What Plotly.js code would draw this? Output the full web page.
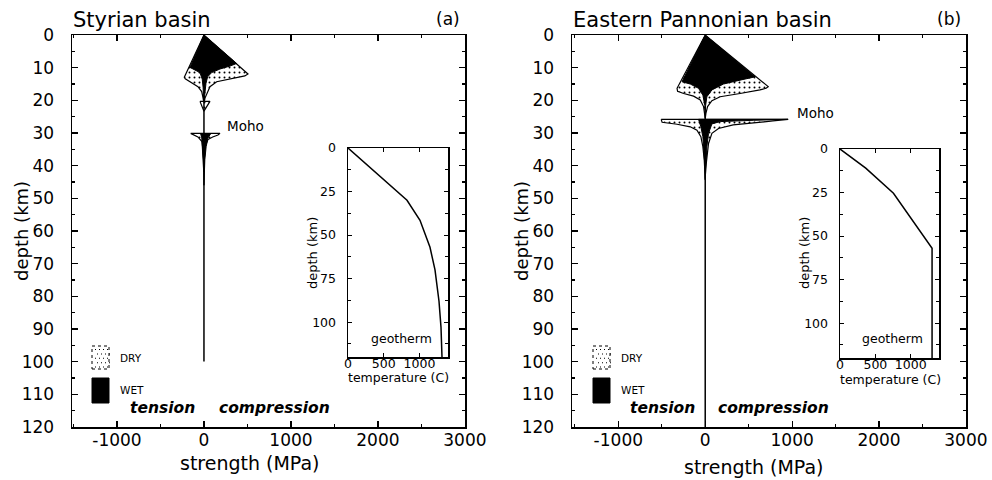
<!DOCTYPE html>
<html><head><meta charset="utf-8">
<script src="https://cdn.plot.ly/plotly-3.0.1.min.js"></script>
<style>body{margin:0;background:#fff}#chart{width:992px;height:480px}</style>
</head><body><div id="chart"></div><script>
// ---------- texts / ticks ----------
const panelTitles = ['Styrian basin', 'Eastern Pannonian basin'];
const panelLabels = ['(a)', '(b)'];
const depthTicks = [0, 10, 20, 30, 40, 50, 60, 70, 80, 90, 100, 110, 120];
const strengthTicks = [-1000, 0, 1000, 2000, 3000];
const strengthTickText = ['-1000', '0', '1000', '2000', '3000'];
const geoDepthTicks = [0, 25, 50, 75, 100];
const geoTempTicks = [0, 500, 1000];

// ---------- panel (a) Styrian basin : strength envelopes (MPa vs km) ----------
const a_dryCrustS = [0, 253, 506, 470, 333, 146, 69, 31, 12, 3, 0, -3, -10, -26, -69, -161, -215, -226, -113, 0];
const a_dryCrustD = [0, 5.95, 11.9, 12.5, 13.2, 14.3, 15.8, 17.8, 19.3, 20.5, 21.5, 20.5, 19.3, 17.3, 15.8, 14.3, 13.4, 12.9, 6.45, 0];
const a_wetCrustS = [0, 188, 375, 299, 184, 88, 42, 23, 12, 4, 0, -4, -10, -20, -46, -103, -161, -80, 0];
const a_wetCrustD = [0, 4.35, 8.7, 9.5, 10.4, 11.5, 12.8, 14.8, 17.3, 19.5, 20.5, 19.5, 16, 13.5, 11.5, 10.7, 9.9, 4.95, 0];
const a_dryLowS = [-46, 69, 0, -46];
const a_dryLowD = [20.3, 20.3, 23.3, 20.3];
const a_dryMantleS = [-153, 184, 161, 100, 46, 15, 4, 0, -4, -12, -23, -70, -126, -153];
const a_dryMantleD = [30.1, 30.1, 30.6, 31.2, 32.0, 34.0, 38.0, 42.0, 38.0, 35.0, 32.6, 31.2, 30.6, 30.1];
const a_wetMantleS = [-38, 77, 46, 25, 10, 3, 0, -3, -8, -15, -25, -38];
const a_wetMantleD = [30.2, 30.2, 31.5, 34.2, 38.2, 42, 46, 42, 38.2, 34.2, 31.5, 30.2];
const a_stemS = [0, 0];
const a_stemD = [19, 100];
// geotherm (a): temperature (C) vs depth (km)
const a_geoT = [0, 308, 546, 826, 1008, 1148, 1218, 1274, 1302, 1316];
const a_geoD = [0, 11, 20, 30, 41.5, 57, 70, 88, 103, 120];

// ---------- panel (b) Eastern Pannonian basin ----------
const b_dryCrustS = [0, 362, 725, 700, 630, 401, 172, 77, 27, 8, 0, -8, -19, -57, -134, -248, -318, -324, -162, 0];
const b_dryCrustD = [0, 7.9, 15.8, 16.3, 16.8, 17.9, 18.9, 20.1, 21.9, 24.0, 25.5, 24.0, 21.9, 19.9, 18.7, 17.9, 17.2, 16.3, 8.15, 0];
const b_wetCrustS = [0, 287, 573, 401, 210, 77, 19, 5, 0, -5, -27, -77, -172, -267, -134, 0];
const b_wetCrustD = [0, 6.4, 12.8, 13.8, 15.0, 16.8, 18.9, 21.5, 23, 21.5, 18.4, 16.3, 15.0, 14.3, 7.15, 0];
const b_dryMantleS = [-507, 954, 779, 553, 321, 153, 77, 38, 19, 5, 0, -5, -11, -27, -50, -95, -172, -324, -496, -507];
const b_dryMantleD = [25.8, 25.8, 26.3, 26.8, 27.5, 28.6, 30.1, 33.2, 37.2, 41, 44, 41, 38.3, 34.2, 31.1, 29.1, 28.1, 27.3, 26.7, 25.8];
const b_wetMantleS = [-77, 954, 553, 172, 77, 38, 19, 8, 0, -4, -11, -27, -50, -77];
const b_wetMantleD = [25.8, 25.8, 26.1, 26.5, 27.2, 30.1, 34.2, 39.3, 44.4, 40, 36.2, 31.1, 28.1, 25.8];
const b_stemS = [0, 0];
const b_stemD = [22, 120];
const b_geoT = [0, 364, 756, 1302, 1302];
const b_geoD = [0, 11, 25.4, 57, 120];

// ---------- helpers ----------
const W = 992, H = 480;
const FONT = 'DejaVu Sans, Verdana, sans-serif';
const px = x => x / W;
const py = y => 1 - y / H;

const dotPattern = {shape: '.', fgcolor: '#000', bgcolor: '#fff', size: 5, solidity: 0.12};
function dry(s, d, xa, ya) {
  return {type: 'scatter', mode: 'lines', x: s, y: d, xaxis: xa, yaxis: ya, fill: 'toself',
    fillcolor: '#fff', fillpattern: dotPattern, line: {color: '#000', width: 1.2}, hoverinfo: 'skip', showlegend: false};
}
function wet(s, d, xa, ya) {
  return {type: 'scatter', mode: 'lines', x: s, y: d, xaxis: xa, yaxis: ya, fill: 'toself',
    fillcolor: '#000', line: {color: '#000', width: 1}, hoverinfo: 'skip', showlegend: false};
}
function line(s, d, xa, ya, w) {
  return {type: 'scatter', mode: 'lines', x: s, y: d, xaxis: xa, yaxis: ya,
    line: {color: '#000', width: w}, hoverinfo: 'skip', showlegend: false};
}

const traces = [
  dry(a_dryCrustS, a_dryCrustD, 'x', 'y'),
  wet(a_wetCrustS, a_wetCrustD, 'x', 'y'),
  dry(a_dryLowS, a_dryLowD, 'x', 'y'),
  dry(a_dryMantleS, a_dryMantleD, 'x', 'y'),
  wet(a_wetMantleS, a_wetMantleD, 'x', 'y'),
  line(a_stemS, a_stemD, 'x', 'y', 1.5),
  dry(b_dryCrustS, b_dryCrustD, 'x2', 'y2'),
  wet(b_wetCrustS, b_wetCrustD, 'x2', 'y2'),
  dry(b_dryMantleS, b_dryMantleD, 'x2', 'y2'),
  wet(b_wetMantleS, b_wetMantleD, 'x2', 'y2'),
  line(b_stemS, b_stemD, 'x2', 'y2', 1.5),
  line(a_geoT, a_geoD, 'x3', 'y3', 1.5),
  line(b_geoT, b_geoD, 'x4', 'y4', 1.5)
];

function mainX(dom, range, anchor) {
  return {domain: dom, range: range, anchor: anchor, tickmode: 'array', tickvals: strengthTicks, ticktext: strengthTickText,
    ticks: 'inside', ticklen: 6, tickwidth: 1.2, tickcolor: '#000', showline: true, linecolor: '#000', linewidth: 1.5,
    mirror: 'ticks', showgrid: false, zeroline: false, tickfont: {family: FONT, size: 17, color: '#000'},
    ticklabelstandoff: -3, minor: {ticks: 'inside', ticklen: 3, dtick: 500, tick0: 0, tickcolor: '#000', showgrid: false}};
}
function mainY(dom, anchor) {
  return {domain: dom, range: [120.02, -0.02], anchor: anchor, tickmode: 'array', tickvals: depthTicks,
    ticks: 'inside', ticklen: 6, tickwidth: 1.2, tickcolor: '#000', showline: true, linecolor: '#000', linewidth: 1.5,
    mirror: 'ticks', showgrid: false, zeroline: false, tickfont: {family: FONT, size: 17, color: '#000'},
    ticklabelstandoff: 13, minor: {ticks: 'inside', ticklen: 3, dtick: 5, tick0: 0, tickcolor: '#000', showgrid: false}};
}
function insetX(dom, anchor) {
  return {domain: dom, range: [0, 1400], anchor: anchor, tickvals: geoTempTicks,
    ticks: 'inside', ticklen: 4, tickwidth: 1, tickcolor: '#000', showline: true, linecolor: '#000', linewidth: 1.5,
    mirror: 'ticks', showgrid: false, zeroline: false, tickfont: {family: FONT, size: 12.5, color: '#000'},
    ticklabelstandoff: -6};
}
function insetY(dom, anchor) {
  return {domain: dom, range: [120, 0], anchor: anchor, tickvals: geoDepthTicks,
    ticks: 'inside', ticklen: 4, tickwidth: 1, tickcolor: '#000', showline: true, linecolor: '#000', linewidth: 1.5,
    mirror: 'ticks', showgrid: false, zeroline: false, tickfont: {family: FONT, size: 12.5, color: '#000'},
    ticklabelstandoff: 8, minor: {ticks: 'inside', ticklen: 3, tickvals: [12.5, 37.5, 62.5, 87.5, 112.5], tickcolor: '#000', showgrid: false}};
}

const mainYdom = [py(427), py(35)];
const layout = {
  width: W, height: H, margin: {l: 0, r: 0, t: 0, b: 0}, paper_bgcolor: '#fff', plot_bgcolor: 'rgba(0,0,0,0)',
  showlegend: false, font: {family: FONT, color: '#000'},
  xaxis: mainX([px(72), px(465)], [-1517, 3001], 'y'),
  yaxis: mainY(mainYdom, 'x'),
  xaxis2: mainX([px(572), px(966)], [-1533, 3001], 'y2'),
  yaxis2: mainY(mainYdom, 'x2'),
  xaxis3: insetX([px(348), px(448)], 'y3'),
  yaxis3: insetY([py(357), py(148)], 'x3'),
  xaxis4: insetX([px(840), px(939)], 'y4'),
  yaxis4: insetY([py(358), py(149)], 'x4'),
  annotations: [],
  shapes: []
};

function ann(text, x, y, size, opts) {
  return Object.assign({text: text, x: x, y: y, xref: 'paper', yref: 'paper', showarrow: false,
    xanchor: 'center', yanchor: 'middle', font: {family: FONT, size: size, color: '#000'}}, opts || {});
}
const A = layout.annotations;
// panel titles and labels
A.push(ann(panelTitles[0], px(71), py(20), 21, {xanchor: 'left'}));
A.push(ann(panelTitles[1], px(571), py(20), 21, {xanchor: 'left'}));
A.push(ann(panelLabels[0], px(462), py(19), 17, {xanchor: 'right'}));
A.push(ann(panelLabels[1], px(963), py(19), 17, {xanchor: 'right'}));
// axis titles
A.push(ann('depth (km)', px(22), py(231), 18, {textangle: -90}));
A.push(ann('depth (km)', px(522), py(231), 18, {textangle: -90}));
A.push(ann('strength (MPa)', px(250), py(463), 19));
A.push(ann('strength (MPa)', px(754), py(467), 19));
// inset titles
A.push(ann('depth (km)', px(312), py(253), 13, {textangle: -90}));
A.push(ann('depth (km)', px(804), py(253), 13, {textangle: -90}));
A.push(ann('temperature (C)', px(398), py(377), 12.5));
A.push(ann('temperature (C)', px(890), py(379), 12.5));
A.push(ann('geotherm', px(401), py(338), 12.5));
A.push(ann('geotherm', px(892), py(338), 12.5));
// Moho, tension / compression (data coordinates)
A.push({text: 'Moho', x: 240, y: 27.8, xref: 'x', yref: 'y', showarrow: false, xanchor: 'left', yanchor: 'middle', font: {family: FONT, size: 13.5, color: '#000'}});
A.push({text: 'Moho', x: 1030, y: 23.9, xref: 'x2', yref: 'y2', showarrow: false, xanchor: 'left', yanchor: 'middle', font: {family: FONT, size: 13.5, color: '#000'}});
const tcFont = {family: FONT, size: 15.5, color: '#000', weight: 'bold', style: 'italic'};
A.push({text: 'tension', x: -80, y: 114.2, xref: 'x', yref: 'y', showarrow: false, xanchor: 'right', yanchor: 'middle', font: tcFont});
A.push({text: 'compression', x: 150, y: 114.2, xref: 'x', yref: 'y', showarrow: false, xanchor: 'left', yanchor: 'middle', font: tcFont});
A.push({text: 'tension', x: -100, y: 114.2, xref: 'x2', yref: 'y2', showarrow: false, xanchor: 'right', yanchor: 'middle', font: tcFont});
A.push({text: 'compression', x: 125, y: 114.2, xref: 'x2', yref: 'y2', showarrow: false, xanchor: 'left', yanchor: 'middle', font: tcFont});
// legend boxes (decoration)
const S = layout.shapes;
[92, 593].forEach(function (lx) {
  S.push({type: 'rect', xref: 'paper', yref: 'paper', x0: px(lx), x1: px(lx + 17), y0: py(369), y1: py(346),
    line: {color: '#000', width: 1, dash: 'dot'}, fillcolor: '#fff'});
  let p = '';
  for (let r = 0; r < 5; r++) {
    for (let c = 0; c < 4; c++) {
      const x = lx + 3 + c * 4 + (r % 2) * 2, y = 349 + r * 4.4;
      p += 'M' + px(x) + ',' + py(y) + 'L' + px(x + 1) + ',' + py(y) + 'L' + px(x + 1) + ',' + py(y + 1) + 'L' + px(x) + ',' + py(y + 1) + 'Z';
    }
  }
  S.push({type: 'path', xref: 'paper', yref: 'paper', path: p, fillcolor: '#000', line: {width: 0}});
  S.push({type: 'rect', xref: 'paper', yref: 'paper', x0: px(lx), x1: px(lx + 17), y0: py(403), y1: py(378),
    line: {color: '#000', width: 1}, fillcolor: '#000'});
  A.push(ann('DRY', px(lx + 26), py(358), 10.5, {xanchor: 'left'}));
  A.push(ann('WET', px(lx + 26), py(390), 10.5, {xanchor: 'left'}));
});

Plotly.newPlot('chart', traces, layout, {displayModeBar: false, staticPlot: true});
</script></body></html>
